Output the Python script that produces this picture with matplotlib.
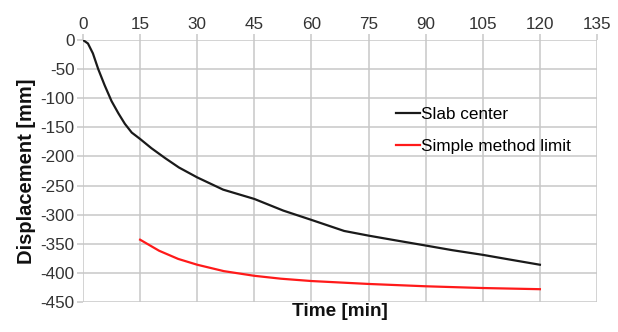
import numpy as np
import matplotlib.pyplot as plt

plt.rcParams['font.family'] = ['Liberation Sans', 'DejaVu Sans']
plt.rcParams['axes.unicode_minus'] = False

# Slab center displacement
slab_t = [0, 1.3, 2.6, 4, 5.7, 7.5, 9.3, 11, 12.8, 15, 18, 21.6, 25.2, 30, 36.8, 45, 52.6, 60, 68.6, 75, 82, 90, 97, 105, 112, 120]
slab_d = [0, -6, -23, -50, -78, -105, -126, -144, -159, -170, -186, -203, -219, -236, -257, -273, -293, -309, -328, -336, -344, -353, -361, -369, -377, -386]

# Simple method limit
lim_t = [15, 20, 25, 30, 37, 45, 52, 60, 75, 90, 105, 120]
lim_d = [-343, -362, -376, -386, -397, -405, -410, -414, -419, -423, -426, -428]

xticks = np.arange(0, 136, 15)
yticks = np.arange(-450, 1, 50)

fig = plt.figure(figsize=(6.18, 3.32), dpi=100)
ax = fig.add_axes([83/618, 1 - 302/332, (597 - 83)/618, (302 - 40)/332])

ax.plot(slab_t, slab_d, color='#1a1a1a', lw=1.6, label='Slab center')
ax.plot(lim_t, lim_d, color='#ff1a1a', lw=1.6, label='Simple method limit')

ax.set_xlim(0, 135)
ax.set_ylim(-450, 0)
ax.set_xticks(xticks)
ax.set_yticks(yticks)
ax.xaxis.tick_top()
ax.grid(True, color='#c8c8c8', lw=1.1)
ax.set_axisbelow(True)
for s in ax.spines.values():
    s.set_visible(False)
ax.tick_params(axis='both', colors='#c8c8c8', labelcolor='#333333', labelsize=12.3, length=4, width=1.1)
ax.tick_params(axis='x', pad=2)
ax.tick_params(axis='y', pad=2)

ax.set_xlabel('Time [min]', fontsize=13.7, fontweight='bold', color='#111111')
ax.xaxis.set_label_position('bottom')
ax.xaxis.labelpad = 1
ax.set_ylabel('Displacement [mm]', fontsize=14.5, fontweight='bold', color='#111111', labelpad=3)

ax.legend(loc='upper left', bbox_to_anchor=(0.595, 0.772), frameon=False, fontsize=12.3,
          handlelength=1.4, handletextpad=0.1, labelspacing=1.0, borderaxespad=0)

fig.savefig('out.png', dpi=100)
